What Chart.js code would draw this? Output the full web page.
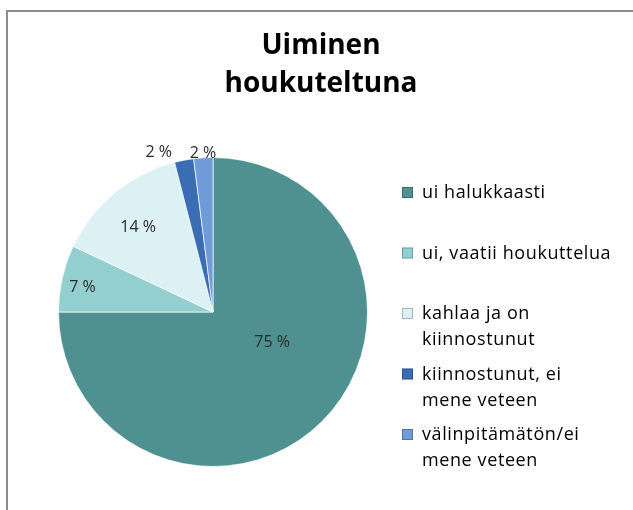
<!DOCTYPE html>
<html>
<head>
<meta charset="utf-8">
<script src="https://cdn.jsdelivr.net/npm/chart.js@4/dist/chart.umd.min.js"></script>
<style>
  html, body { margin: 0; padding: 0; background: #ffffff; }
  #wrap { position: relative; width: 633px; height: 510px; }
</style>
</head>
<body>
<div id="wrap"><canvas id="pieChart" width="633" height="510"></canvas></div>
<script>
const titleLines = ["Uiminen", "houkuteltuna"];

const categories = [
  ["ui halukkaasti"],
  ["ui, vaatii houkuttelua"],
  ["kahlaa ja on", "kiinnostunut"],
  ["kiinnostunut, ei", "mene veteen"],
  ["välinpitämätön/ei", "mene veteen"]
];

const shares = [75, 7, 14, 2, 2];

const sliceColors = ["#4f9090", "#93cfcf", "#dcf1f3", "#3b6db5", "#6f9bd8"];

// label placement: [fraction of radius, angle shift in degrees]
const labelPlacement = [[0.43, -18], [0.86, -2], [0.73, -2], [1.09, -8], [1.03, 0]];

const fontFamily = "'Open Sans', sans-serif";

const frameAndText = {
  id: "frameAndText",
  beforeDraw(chart) {
    const ctx = chart.ctx;
    ctx.save();
    ctx.fillStyle = "#8c8c8c";
    ctx.fillRect(6, 10, chart.width, 2);
    ctx.fillRect(6, 10, 2, chart.height);
    ctx.restore();
  },
  afterDraw(chart) {
    const ctx = chart.ctx;
    ctx.save();

    // title
    ctx.fillStyle = "#000000";
    ctx.font = "bold 28px " + fontFamily;
    ctx.textAlign = "center";
    ctx.textBaseline = "middle";
    titleLines.forEach((line, i) => {
      ctx.fillText(line, 321, 46 + i * 38);
    });

    // percentage labels
    const meta = chart.getDatasetMeta(0);
    const total = shares.reduce((a, b) => a + b, 0);
    ctx.font = "16px " + fontFamily;
    ctx.fillStyle = "#2a2a2a";
    meta.data.forEach((arc, i) => {
      const mid = (arc.startAngle + arc.endAngle) / 2 + labelPlacement[i][1] * Math.PI / 180;
      const r = arc.outerRadius * labelPlacement[i][0];
      const x = arc.x + Math.cos(mid) * r;
      const y = arc.y + Math.sin(mid) * r;
      ctx.fillText(Math.round(shares[i] / total * 100) + " %", x, y);
    });

    // legend
    ctx.textAlign = "left";
    ctx.font = "18px " + fontFamily;
    ctx.letterSpacing = "0.6px";
    categories.forEach((lines, i) => {
      const top = 193 + i * 60.5;
      ctx.fillStyle = sliceColors[i];
      ctx.fillRect(402, top - 6, 11, 11);
      ctx.strokeStyle = "rgba(0,0,0,0.25)";
      ctx.lineWidth = 1;
      ctx.strokeRect(402.5, top - 5.5, 10, 10);
      ctx.fillStyle = "#000000";
      lines.forEach((line, j) => {
        ctx.fillText(line, 422, top + j * 26);
      });
    });

    ctx.restore();
  }
};

new Chart(document.getElementById("pieChart"), {
  type: "pie",
  data: {
    labels: categories.map(lines => lines.join(" ")),
    datasets: [{
      data: shares,
      backgroundColor: sliceColors,
      borderColor: "rgba(255,255,255,0.7)",
      borderWidth: 1
    }]
  },
  options: {
    responsive: false,
    animation: false,
    layout: {
      padding: { left: 58, right: 265, top: 157, bottom: 43 }
    },
    plugins: {
      legend: { display: false },
      title: { display: false },
      tooltip: { enabled: true }
    }
  },
  plugins: [frameAndText]
});
</script>
</body>
</html>
